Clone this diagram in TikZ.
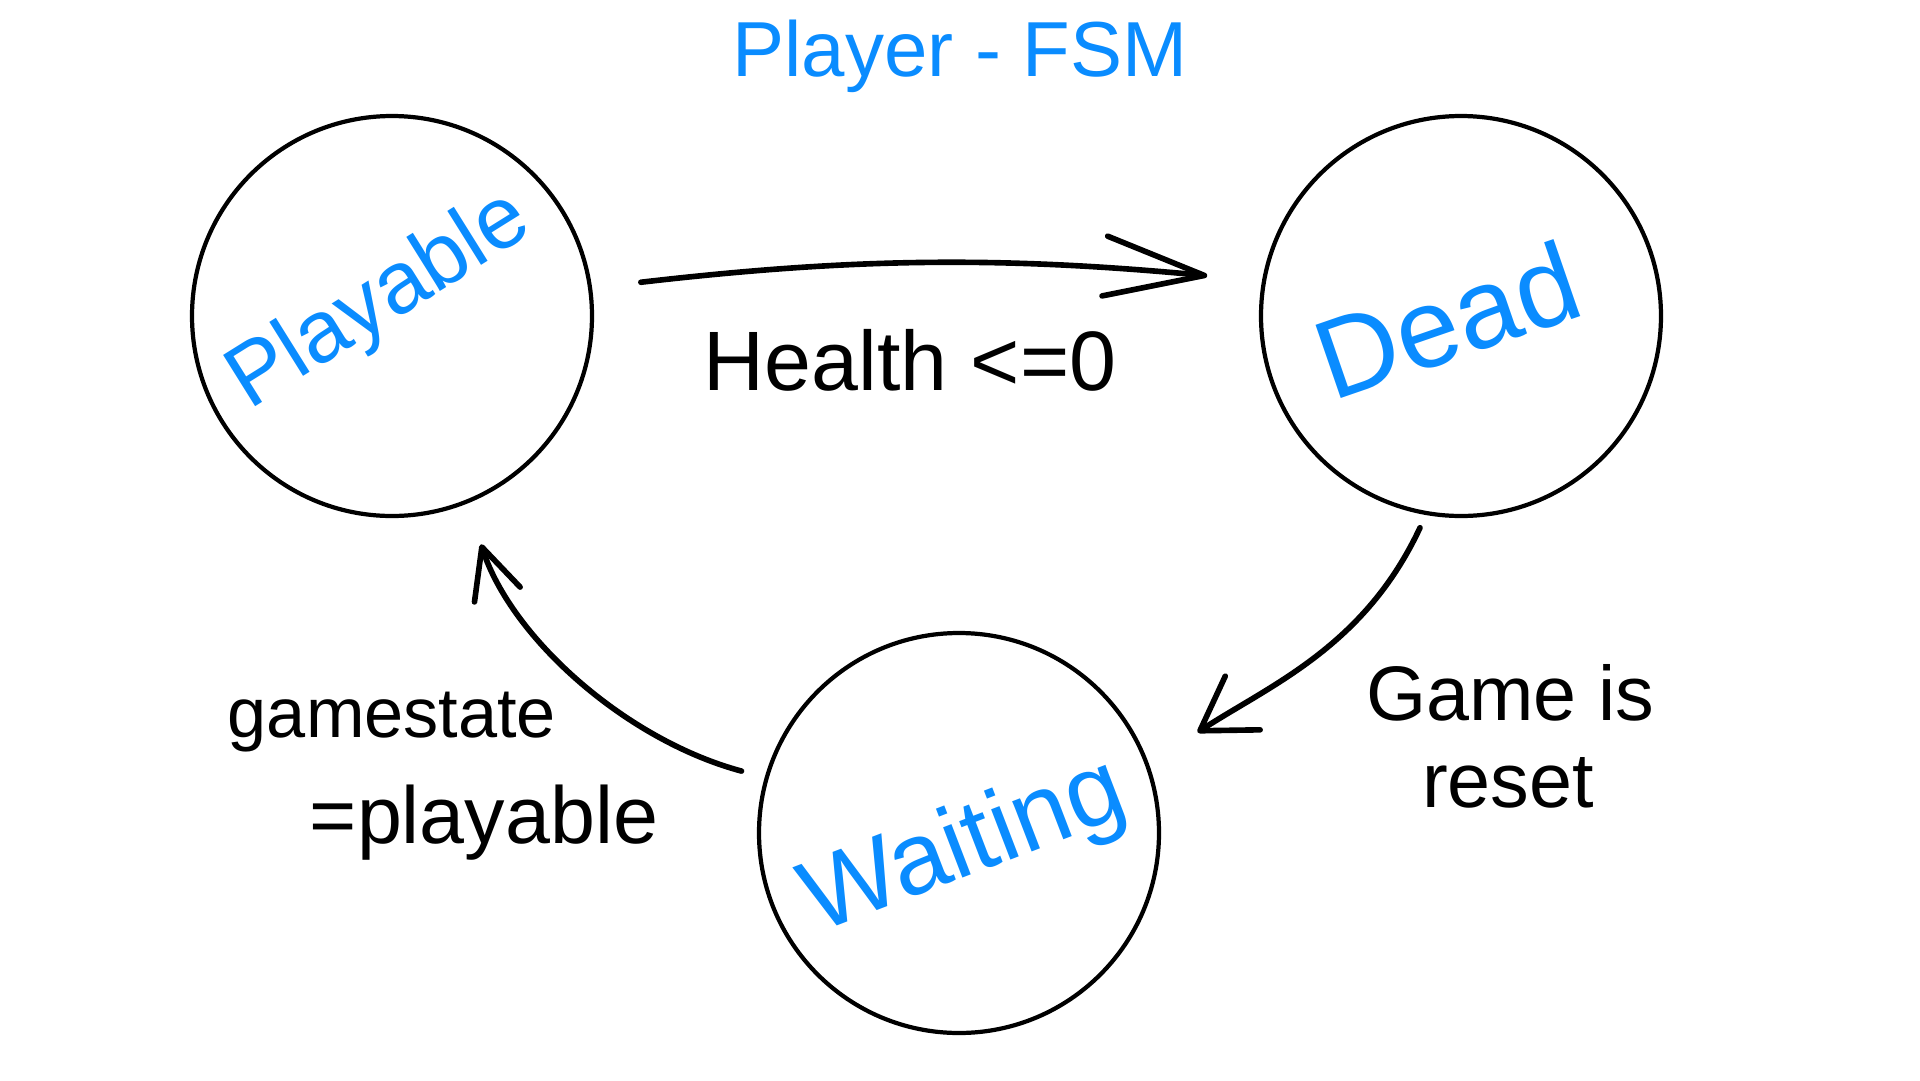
\documentclass[tikz,border=0pt]{standalone}
\usepackage{fontspec}
\setmainfont{Liberation Sans}
\usepackage{xcolor}
\usepackage{tikz}
\usetikzlibrary{arrows.meta}
\definecolor{fsmblue}{RGB}{10,140,255}

\begin{document}
\begin{tikzpicture}[x=0.1mm, y=0.1mm,
    every node/.style={font=\fontsize{22}{26}\selectfont},
    state/.style={draw, circle, line width=1.2pt, minimum size=40mm, inner sep=0pt},
    statetext/.style={text=fsmblue, inner sep=0pt},
    guard/.style={anchor=base, inner sep=0pt},
    trans/.style={line width=1.6pt, line cap=round}]
  \useasboundingbox (0,0) rectangle (1920,1080);
  \node[text=fsmblue, anchor=base, font=\fontsize{22.2}{26}\selectfont]
    (title) at (960,1004) {Player - FSM};
  % states
  \node[state] (playable) at (392,764) {};
  \node[state] (dead) at (1461,764) {};
  \node[state] (waiting) at (959,247) {};
  \node[statetext, rotate=32, font=\fontsize{25}{28}\selectfont]
    (playablename) at ([shift={(-12,14)}]playable.center) {Playable};
  \node[statetext, rotate=19, font=\fontsize{32}{34}\selectfont]
    (deadname) at ([shift={(-14,-4)}]dead.center) {Dead};
  \node[statetext, rotate=21, font=\fontsize{29}{31}\selectfont]
    (waitingname) at ([shift={(6,-16)}]waiting.center) {Waiting};
  % transitions
  \draw[trans, -{Straight Barb[length=10mm,width=6mm,round]},
        shorten <=4.9mm, shorten >=5.5mm]
    (playable.8) to[bend left=6] (dead.170);
  \draw[trans, -{Straight Barb[length=5.1mm,width=6.4mm,round]},
        shorten <=1.4mm, shorten >=5.8mm]
    (dead.260) to[out=245, in=33] (waiting.20);
  \draw[trans, -{Straight Barb[length=5mm,width=4.8mm,round]},
        shorten <=2.4mm, shorten >=4.3mm]
    (waiting.164) to[out=165, in=-72, looseness=0.9] (playable.292);
  % guards
  \node[guard, font=\fontsize{24}{28}\selectfont] (health) at (910,690) {Health <=0};
  \node[guard, font=\fontsize{20}{24}\selectfont] (gamestate) at (392,343) {gamestate};
  \node[guard, font=\fontsize{23}{26}\selectfont] (isplayable) at (484,237) {=playable};
  \node[guard] (gameis) at (1510,360) {Game is};
  \node[guard] (reset) at (1508,273) {reset};
\end{tikzpicture}
\end{document}
